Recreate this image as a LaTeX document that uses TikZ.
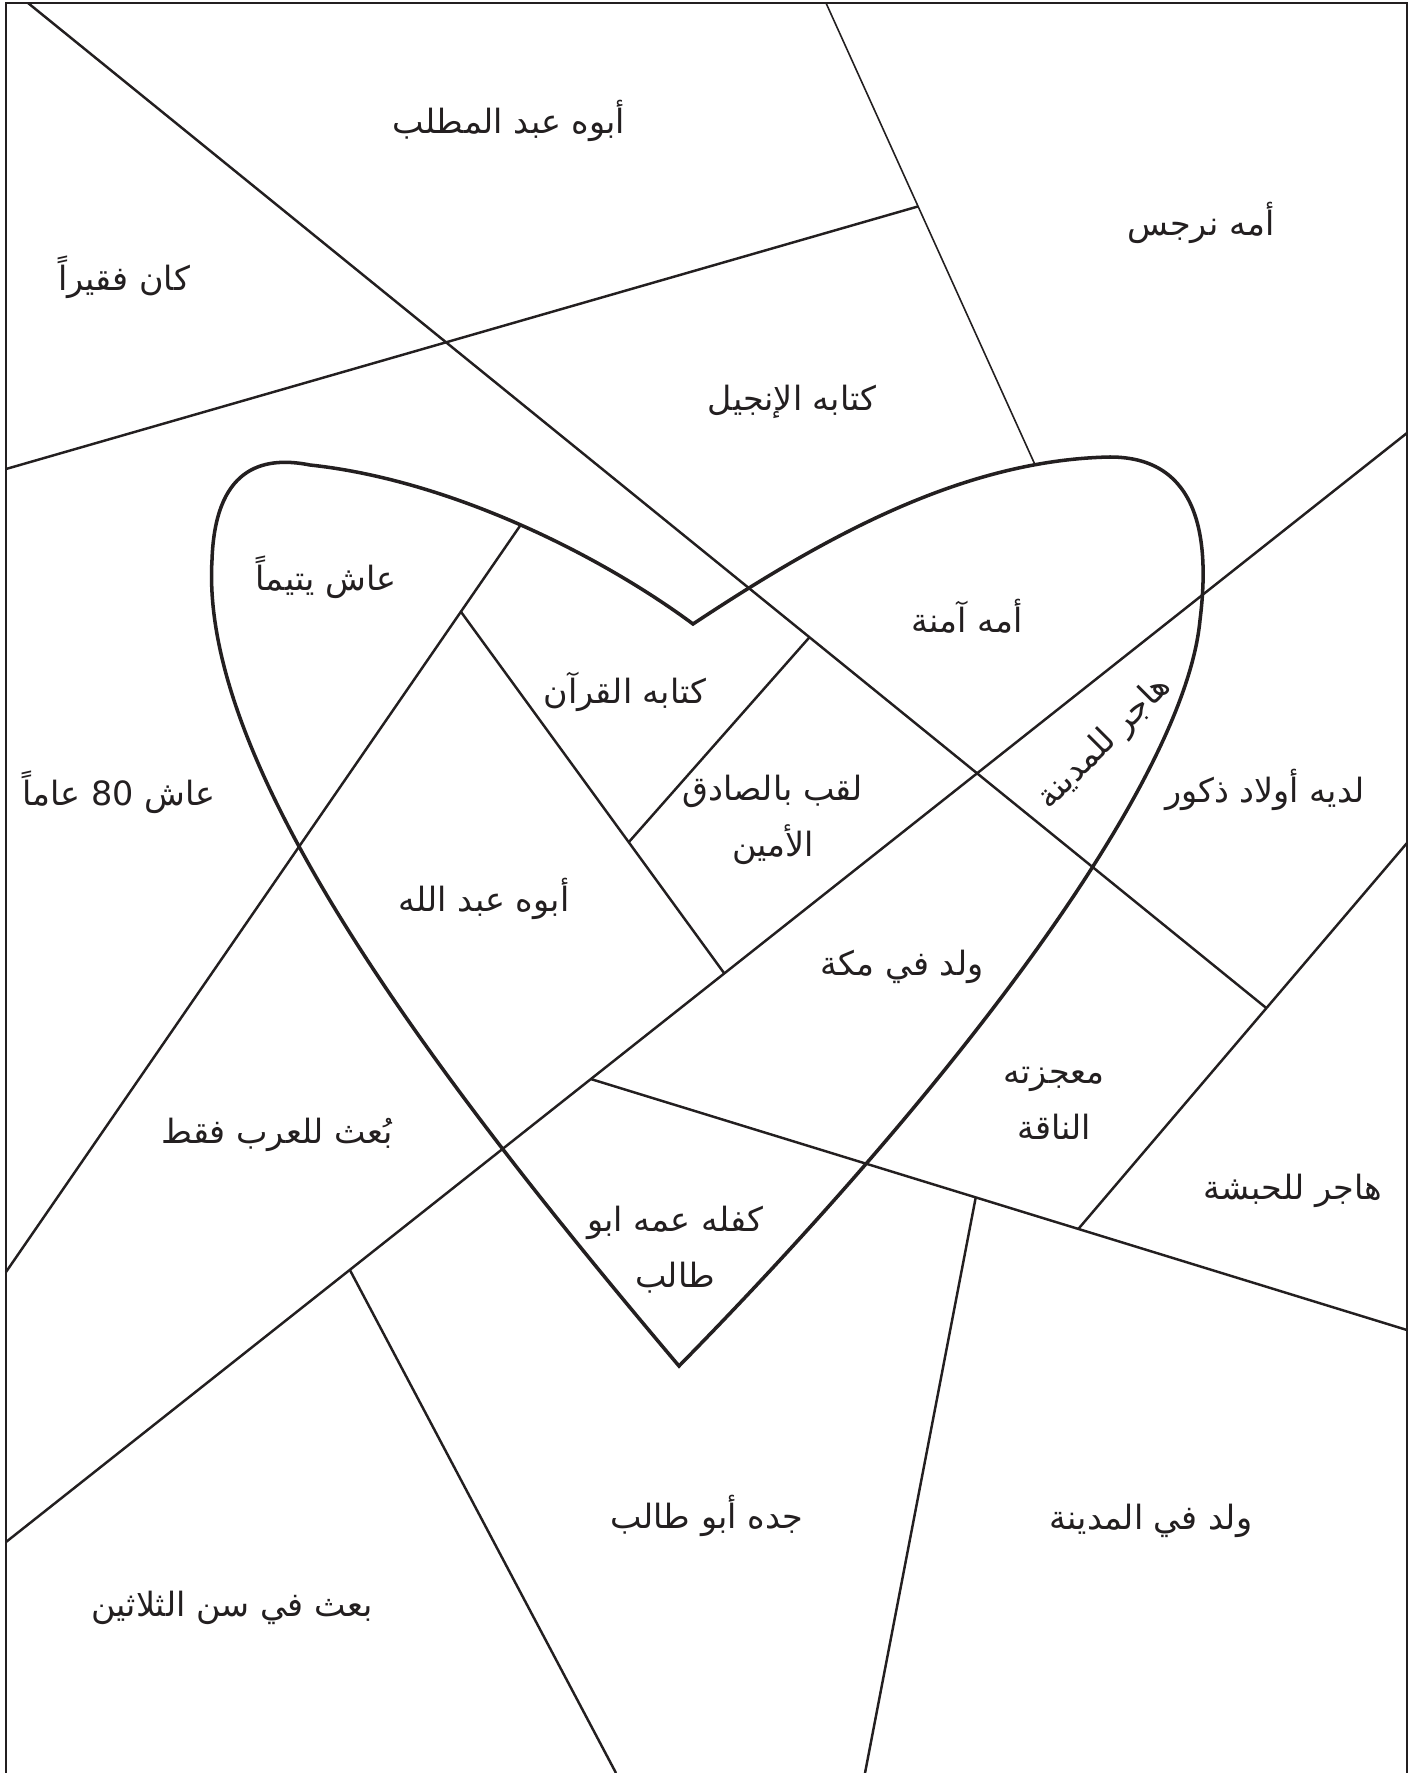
\documentclass[tikz,border=0pt]{standalone}
\usepackage{fontspec}
\usepackage{tikz}
\usetikzlibrary{calc,intersections}
\newfontfamily\arabicfont[Script=Arabic]{DejaVu Sans}
\TeXXeTstate=1
\definecolor{ink}{RGB}{35,31,32}
\newcommand{\artxt}[1]{\beginR #1\endR}
\tikzset{
  cutline/.style={line width=0.7pt, ink},
  thincut/.style={line width=0.45pt, ink},
  heartline/.style={line width=1pt, ink},
  lbl/.style={font=\arabicfont\fontsize{9.5}{16}\selectfont, align=center, inner sep=0pt, text=ink}
}

\begin{document}
\begin{tikzpicture}[x=0.01cm, y=-0.01cm]
      \useasboundingbox (0,0) rectangle (1424,1773);
      \fill[white] (0,0) rectangle (1424,1773);
      \draw[line width=0.8pt, ink] (6,1790) -- (6,3) -- (1407,3) -- (1407,1790);
      \foreach \n/\a/\b in {l1/{28,3}/{1265,1007}, l2/{6,469}/{916,207}, l3/{826,3}/{1037,469},
                            l4/{1407,433}/{6,1542}, l5/{6,1272}/{520,526}, l6/{464,616}/{724,973},
                            l7/{628,843}/{806,641}, l8/{594,1080}/{1407,1330}, l9/{1407,843}/{1078,1229},
                            l10/{975,1201}/{865,1773}, l11/{351,1272}/{616,1773}} {
        \coordinate (\n a) at (\a);
        \coordinate (\n b) at (\b);
      }
      \coordinate (tip) at (679,1366);
      \coordinate (notch) at (693,624);
      \draw[heartline, name path=heart] (tip) .. controls (420,1060) and (200,760) .. (212,560)
        .. controls (215,470) and (260,455) .. (310,465)
        .. controls (450,480) and (600,555) .. (notch)
        .. controls (820,540) and (960,460) .. (1110,457)
        .. controls (1200,457) and (1210,540) .. (1200,620)
        .. controls (1185,780) and (960,1080) .. (tip) -- cycle;
      \path[name path=lthree] (l3a) -- ($(l3a)!1.1!(l3b)$);
      \path[name path=lfive] (l5a) -- ($(l5a)!1.06!(l5b)$);
      \draw[thincut, name intersections={of=heart and lthree, by=h3}] (l3a) -- (h3);
      \draw[cutline, name intersections={of=heart and lfive, sort by=lfive, by={h5x,h5}}] (l5a) -- (h5);
      \draw[cutline] (l1a) -- (intersection of l1a--l1b and l9a--l9b);
      \draw[cutline] (l2a) -- (intersection of l2a--l2b and l3a--l3b);
      \draw[cutline] (l4a) -- (l4b);
      \draw[cutline] (intersection of l6a--l6b and l5a--l5b) -- (intersection of l6a--l6b and l4a--l4b);
      \draw[cutline] (intersection of l7a--l7b and l6a--l6b) -- (intersection of l7a--l7b and l1a--l1b);
      \draw[cutline] (intersection of l8a--l8b and l4a--l4b) -- (l8b);
      \draw[cutline] (l9a) -- (intersection of l9a--l9b and l8a--l8b);
      \draw[cutline] (intersection of l10a--l10b and l8a--l8b) -- (l10b);
      \draw[cutline] (intersection of l11a--l11b and l4a--l4b) -- (l11b);
      \node[lbl] (abuhu) at (509,121) {\artxt{أبوه عبد المطلب}};
      \node[lbl] (narjis) at (1201,223) {\artxt{أمه نرجس}};
      \node[lbl] (faqir) at (124,277) {\artxt{كان فقيراً}};
      \node[lbl] (injil) at (792,402) {\artxt{كتابه الإنجيل}};
      \node[lbl] (yatim) at (326,577) {\artxt{عاش يتيماً}};
      \node[lbl] (amina) at (967,616) {\artxt{أمه آمنة}};
      \node[lbl] (quran) at (625,692) {\artxt{كتابه القرآن}};
      \node[lbl, rotate=45] (madina) at (1105,743) {\artxt{هاجر للمدينة}};
      \node[lbl] (awlad) at (1265,790) {\artxt{لديه أولاد ذكور}};
      \node[lbl] (thamanun) at (119,792) {\artxt{عاش \beginL 80\endL{} عاماً}};
      \node[lbl] (sadiq) at (773,820) {\artxt{لقب بالصادق}\\\artxt{الأمين}};
      \node[lbl] (abdallah) at (484,899) {\artxt{أبوه عبد الله}};
      \node[lbl] (makka) at (902,967) {\artxt{ولد في مكة}};
      \node[lbl] (naqa) at (1054,1103) {\artxt{معجزته}\\\artxt{الناقة}};
      \node[lbl] (arab) at (277,1135) {\artxt{بُعث للعرب فقط}};
      \node[lbl] (habasha) at (1293,1191) {\artxt{هاجر للحبشة}};
      \node[lbl] (kafala) at (675,1250) {\artxt{كفله عمه ابو}\\\artxt{طالب}};
      \node[lbl] (jadd) at (707,1516) {\artxt{جده أبو طالب}};
      \node[lbl] (wulida) at (1151,1521) {\artxt{ولد في المدينة}};
      \node[lbl] (thalathin) at (232,1608) {\artxt{بعث في سن الثلاثين}};
    \end{tikzpicture}
\end{document}
